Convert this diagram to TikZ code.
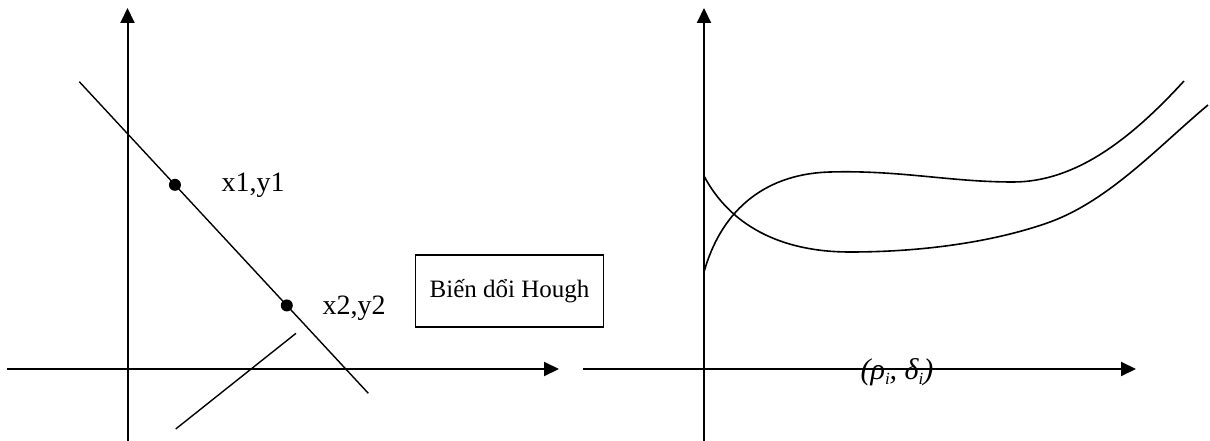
\documentclass[tikz,border=0pt]{standalone}
\usepackage{fontspec}
\setmainfont{Liberation Serif}
\usetikzlibrary{arrows.meta,calc}
\tikzset{
  axis/.style={line width=2pt,-{Triangle[length=15pt,width=14pt]}},
  thin line/.style={line width=1.4pt},
  curve/.style={line width=1.6pt},
  lbl/.style={font=\fontsize{28}{32}\selectfont, inner sep=0pt},
  dotmark/.style={circle, fill=black, inner sep=0pt, minimum size=12pt},
  boxnode/.style={draw, line width=1.4pt, minimum width=188pt, minimum height=72pt, font=\fontsize{25}{30}\selectfont}
}
\newcommand{\sbi}{\raisebox{-5pt}{\fontsize{17}{20}\selectfont\itshape i}}
\begin{document}
\begin{tikzpicture}[x=1pt,y=-1pt]
\useasboundingbox (0,0) rectangle (1210,441);
% left axes
\coordinate (lx0) at (7,369);
\coordinate (lx1) at (559,369);
\coordinate (ly0) at (127.5,441);
\coordinate (ly1) at (127.5,8);
\draw[axis] (lx0) -- (lx1);
\draw[axis] (ly0) -- (ly1);
% right axes
\coordinate (rx0) at (583,369);
\coordinate (rx1) at (1136,369);
\coordinate (ry0) at (704,441);
\coordinate (ry1) at (704,8);
\draw[axis] (rx0) -- (rx1);
\draw[axis] (ry0) -- (ry1);
% line
\coordinate (la) at (79.3,81.7);
\coordinate (lb) at (368.3,393.3);
\draw[thin line] (la) -- (lb);
\node[dotmark] (p1) at ($(la)!0.331!(lb)$) {};
\node[dotmark] (p2) at ($(la)!0.718!(lb)$) {};
\node[lbl] (t1) at (253,185) {x1,y1};
\node[lbl] (t2) at (354,308) {x2,y2};
% short line
\coordinate (sa) at (175.7,429);
\coordinate (sb) at (296,333.3);
\draw[thin line] (sa) -- (sb);
% box
\node[boxnode] (box) at (509.5,291) {Biến dổi Hough};
% curves
\coordinate (a0) at (704,272);
\coordinate (a1) at (830,172);
\coordinate (a2) at (1013,182);
\coordinate (a3) at (1184,81);
\draw[curve] (a0) .. controls (720,215) and (760,174) .. (a1)
  .. controls (900,170) and (950,182) .. (a2)
  .. controls (1075,182) and (1130,140) .. (a3);
\coordinate (b0) at (704,176);
\coordinate (b1) at (850,252);
\coordinate (b2) at (1050,222);
\coordinate (b3) at (1208,105);
\draw[curve] (b0) .. controls (730,225) and (780,252) .. (b1)
  .. controls (930,252) and (1000,240) .. (b2)
  .. controls (1110,200) and (1160,145) .. (b3);
\node[lbl, font=\fontsize{30}{34}\selectfont\itshape] (rl) at (897,372) {(ρ\sbi, δ\sbi)};
\end{tikzpicture}
\end{document}
